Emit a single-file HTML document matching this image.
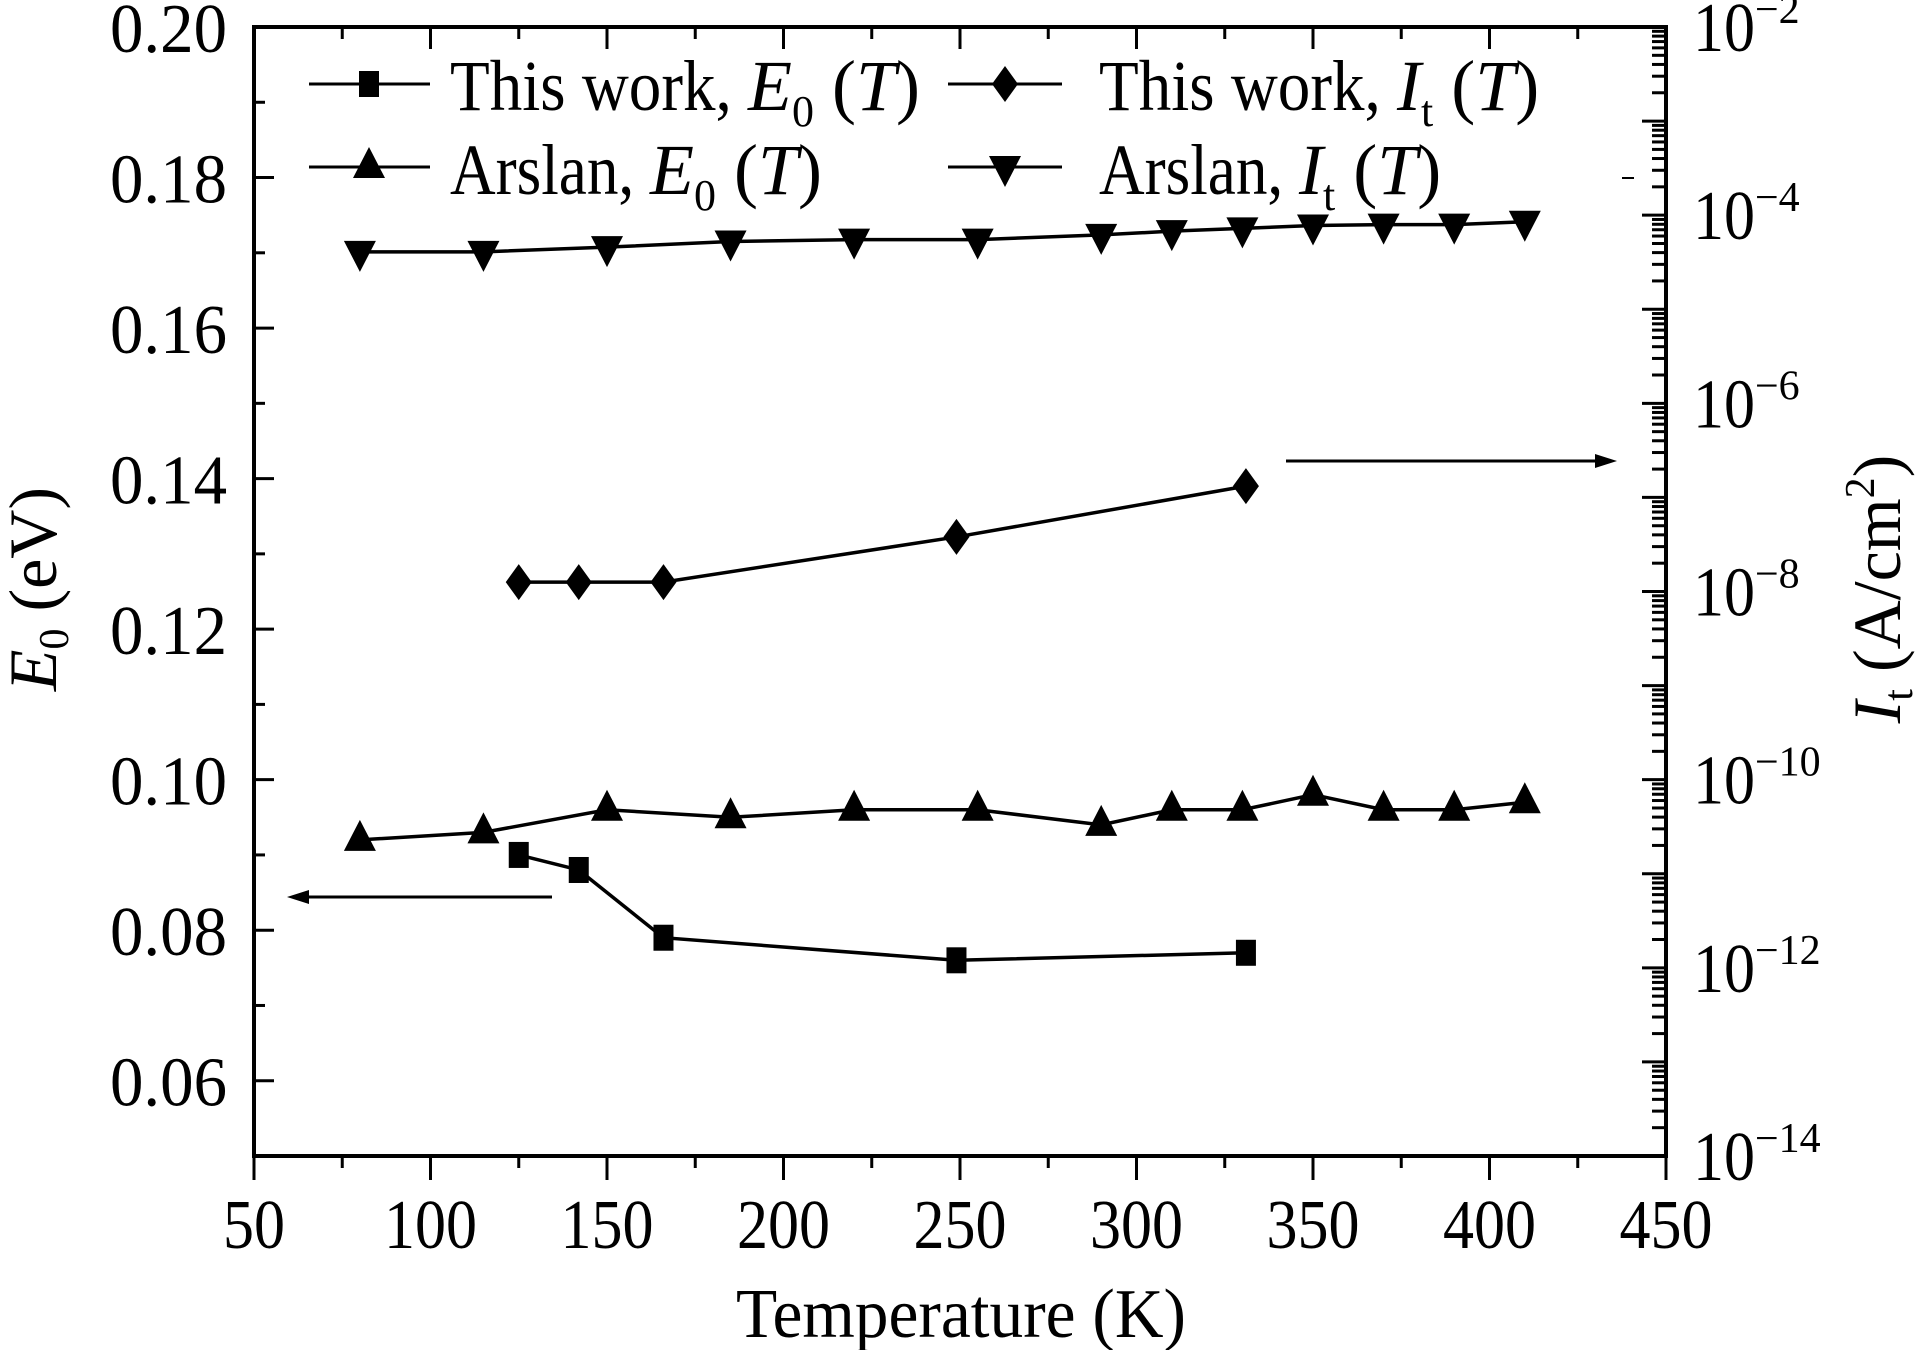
<!DOCTYPE html>
<html><head><meta charset="utf-8"><style>
html,body{margin:0;padding:0;background:#fff}
svg{display:block}
text{font-family:"Liberation Serif",serif;fill:#000}
</style></head><body>
<svg id="chart" width="1924" height="1350" viewBox="0 0 1924 1350" xmlns="http://www.w3.org/2000/svg">
<g id="axes"></g>
<g id="series"></g>
<g id="legend"></g>
</svg>
<script>
const tempsThisWork = [125, 142, 166, 249, 331];
const e0ThisWork = [0.090, 0.088, 0.079, 0.076, 0.077];
const logItThisWork = [-7.90, -7.90, -7.90, -7.42, -6.88];
const tempsArslan = [80, 115, 150, 185, 220, 255, 290, 310, 330, 350, 370, 390, 410];
const e0Arslan = [0.092, 0.093, 0.096, 0.095, 0.096, 0.096, 0.094, 0.096, 0.096, 0.098, 0.096, 0.096, 0.097];
const logItArslan = [-4.39, -4.39, -4.34, -4.28, -4.26, -4.26, -4.21, -4.17, -4.14, -4.11, -4.10, -4.10, -4.07];
const xTicks = [50, 100, 150, 200, 250, 300, 350, 400, 450];
const yLeftTicks = ['0.06', '0.08', '0.10', '0.12', '0.14', '0.16', '0.18', '0.20'];
const yRightExps = [-14, -12, -10, -8, -6, -4, -2];

const NS = 'http://www.w3.org/2000/svg';
const L = 254, R = 1666, T = 27, B = 1156;
const xS = v => L + (v - 50) / 400 * (R - L);
const yL = v => B - (v - 0.05) / 0.15 * (B - T);
const yR = lg => T + (-2 - lg) / 12 * (B - T);

function mk(tag, attrs, parent) {
  const e = document.createElementNS(NS, tag);
  for (const k in attrs) e.setAttribute(k, attrs[k]);
  parent.appendChild(e);
  return e;
}
const axes = document.getElementById('axes');
const series = document.getElementById('series');
const legend = document.getElementById('legend');

const frame = mk('rect', {x: L, y: T, width: R - L, height: B - T, fill: 'none', stroke: '#000', 'stroke-width': 4}, axes);



for (let v = 50; v <= 450; v += 25) {
  const major = v % 50 === 0;
  const x = xS(v);
  const t = mk('line', {x1: x, x2: x, y1: B, y2: B + (major ? 24 : 12), stroke: '#000', 'stroke-width': 3}, axes);
  
  
  const t2 = mk('line', {x1: x, x2: x, y1: T, y2: T + (major ? 22 : 12), stroke: '#000', 'stroke-width': 3}, axes);
  
  
}
xTicks.forEach(v => {
  const s = String(v);
  const t = mk('text', {x: xS(v), y: 1248, 'font-size': 70, 'text-anchor': 'middle', textLength: s.length * 31, lengthAdjust: 'spacingAndGlyphs'}, axes);
  t.textContent = s;
  
  
});
for (let i = 0; i <= 15; i++) {
  const v = 0.05 + i * 0.01;
  const major = i % 2 === 1;
  const y = yL(v);
  const t = mk('line', {x1: L, x2: L + (major ? 20 : 11), y1: y, y2: y, stroke: '#000', 'stroke-width': 3}, axes);
  
  
}
yLeftTicks.forEach(s => {
  const t = mk('text', {x: 227, y: yL(parseFloat(s)) + 25, 'font-size': 70, 'text-anchor': 'end', textLength: 117, lengthAdjust: 'spacingAndGlyphs'}, axes);
  t.textContent = s;
  
  
});
for (let d = -14; d < -2; d++) {
  for (let m = 1; m <= 9; m++) {
    const lg = d + Math.log10(m);
    const y = yR(lg);
    const t = mk('line', {x1: R, x2: R - (m === 1 ? 24 : 14), y1: y, y2: y, stroke: '#000', 'stroke-width': 3}, axes);
    
    
  }
}
yRightExps.forEach(e => {
  const y = yR(e);
  const t = mk('text', {x: 1693, y: y + 24, 'font-size': 70}, axes);
  
  
  const a = mk('tspan', {textLength: 62, lengthAdjust: 'spacingAndGlyphs'}, t); a.textContent = '10';
  const b = mk('tspan', {dy: -28, 'font-size': 42}, t); b.textContent = '\u2212' + Math.abs(e);
});

const xt = mk('text', {x: 961, y: 1337, 'font-size': 70, 'text-anchor': 'middle', textLength: 450, lengthAdjust: 'spacingAndGlyphs'}, axes);
xt.textContent = 'Temperature (K)';



const ylt = mk('text', {transform: 'translate(56,589) rotate(-90)', 'font-size': 68, 'text-anchor': 'middle'}, axes);


ylt.innerHTML = '<tspan font-style="italic">E</tspan><tspan font-size="42" dy="12">0</tspan><tspan dy="-12"> (eV)</tspan>';

const yrt = mk('text', {transform: 'translate(1900,589) rotate(-90)', 'font-size': 68, 'text-anchor': 'middle'}, axes);


yrt.innerHTML = '<tspan font-style="italic">I</tspan><tspan font-size="42" dy="12">t</tspan><tspan dy="-12"> (A/cm</tspan><tspan font-size="42" dy="-26">2</tspan><tspan dy="26">)</tspan>';

function marker(type, x, y, parent) {
  let e;
  if (type === 'square') e = mk('rect', {x: x - 10, y: y - 13, width: 20, height: 26, fill: '#000'}, parent);
  else if (type === 'up') e = mk('polygon', {points: `${x},${y - 20} ${x + 16},${y + 11} ${x - 16},${y + 11}`, fill: '#000'}, parent);
  else if (type === 'down') e = mk('polygon', {points: `${x},${y + 20} ${x + 16},${y - 11} ${x - 16},${y - 11}`, fill: '#000'}, parent);
  else e = mk('polygon', {points: `${x},${y - 18} ${x + 13},${y} ${x},${y + 18} ${x - 13},${y}`, fill: '#000'}, parent);
  return e;
}
function drawSeries(name, xs, ys, yFn, type) {
  const g = mk('g', {}, series);
  
  
  const pts = xs.map((v, i) => xS(v) + ',' + yFn(ys[i])).join(' ');
  const pl = mk('polyline', {points: pts, fill: 'none', stroke: '#000', 'stroke-width': 3.5}, g);
  
  
  xs.forEach((v, i) => {
    const m = marker(type, xS(v), yFn(ys[i]), g);
    
    
  });
}
drawSeries('arslan-it', tempsArslan, logItArslan, yR, 'down');
drawSeries('arslan-e0', tempsArslan, e0Arslan, yL, 'up');
drawSeries('this-work-it', tempsThisWork, logItThisWork, yR, 'diamond');
drawSeries('this-work-e0', tempsThisWork, e0ThisWork, yL, 'square');

function arrow(name, x1, x2, y) {
  const g = mk('g', {}, series);
  
  
  const dir = Math.sign(x2 - x1);
  mk('line', {x1: x1, x2: x2 - dir * 14, y1: y, y2: y, stroke: '#000', 'stroke-width': 3}, g);
  mk('polygon', {points: `${x2},${y} ${x2 - dir * 22},${y - 7} ${x2 - dir * 22},${y + 7}`, fill: '#000'}, g);
}
arrow('left-axis-arrow', 552, 287, 897);
arrow('right-axis-arrow', 1286, 1617, 461);
const dash = mk('line', {x1: 1622, x2: 1634, y1: 178, y2: 178, stroke: '#000', 'stroke-width': 2}, axes);



function legendEntry(name, x1, x2, mx, my, type, tx, ty, html) {
  const g = mk('g', {}, legend);
  
  
  mk('line', {x1: x1, x2: x2, y1: my, y2: my, stroke: '#000', 'stroke-width': 3}, g);
  marker(type, mx, my, g);
  const t = mk('text', {x: tx, y: ty, 'font-size': 72}, g);
  t.innerHTML = html;
}
const sub = (v, s) => `<tspan font-style="italic">${v}</tspan><tspan font-size="44" dy="16">${s}</tspan><tspan dy="-16"> (</tspan><tspan font-style="italic">T</tspan><tspan>)</tspan>`;
legendEntry('legend-this-work-e0', 309, 430, 369, 84, 'square', 450, 110, '<tspan textLength="298" lengthAdjust="spacingAndGlyphs">This work, </tspan>' + sub('E', '0'));
legendEntry('legend-this-work-it', 948, 1062, 1005, 84, 'diamond', 1099, 110, '<tspan textLength="298" lengthAdjust="spacingAndGlyphs">This work, </tspan>' + sub('I', 't'));
legendEntry('legend-arslan-e0', 309, 430, 369, 167, 'up', 450, 194, '<tspan textLength="200" lengthAdjust="spacingAndGlyphs">Arslan, </tspan>' + sub('E', '0'));
legendEntry('legend-arslan-it', 948, 1062, 1005, 167, 'down', 1099, 194, '<tspan textLength="200" lengthAdjust="spacingAndGlyphs">Arslan, </tspan>' + sub('I', 't'));
</script>
</body></html>
